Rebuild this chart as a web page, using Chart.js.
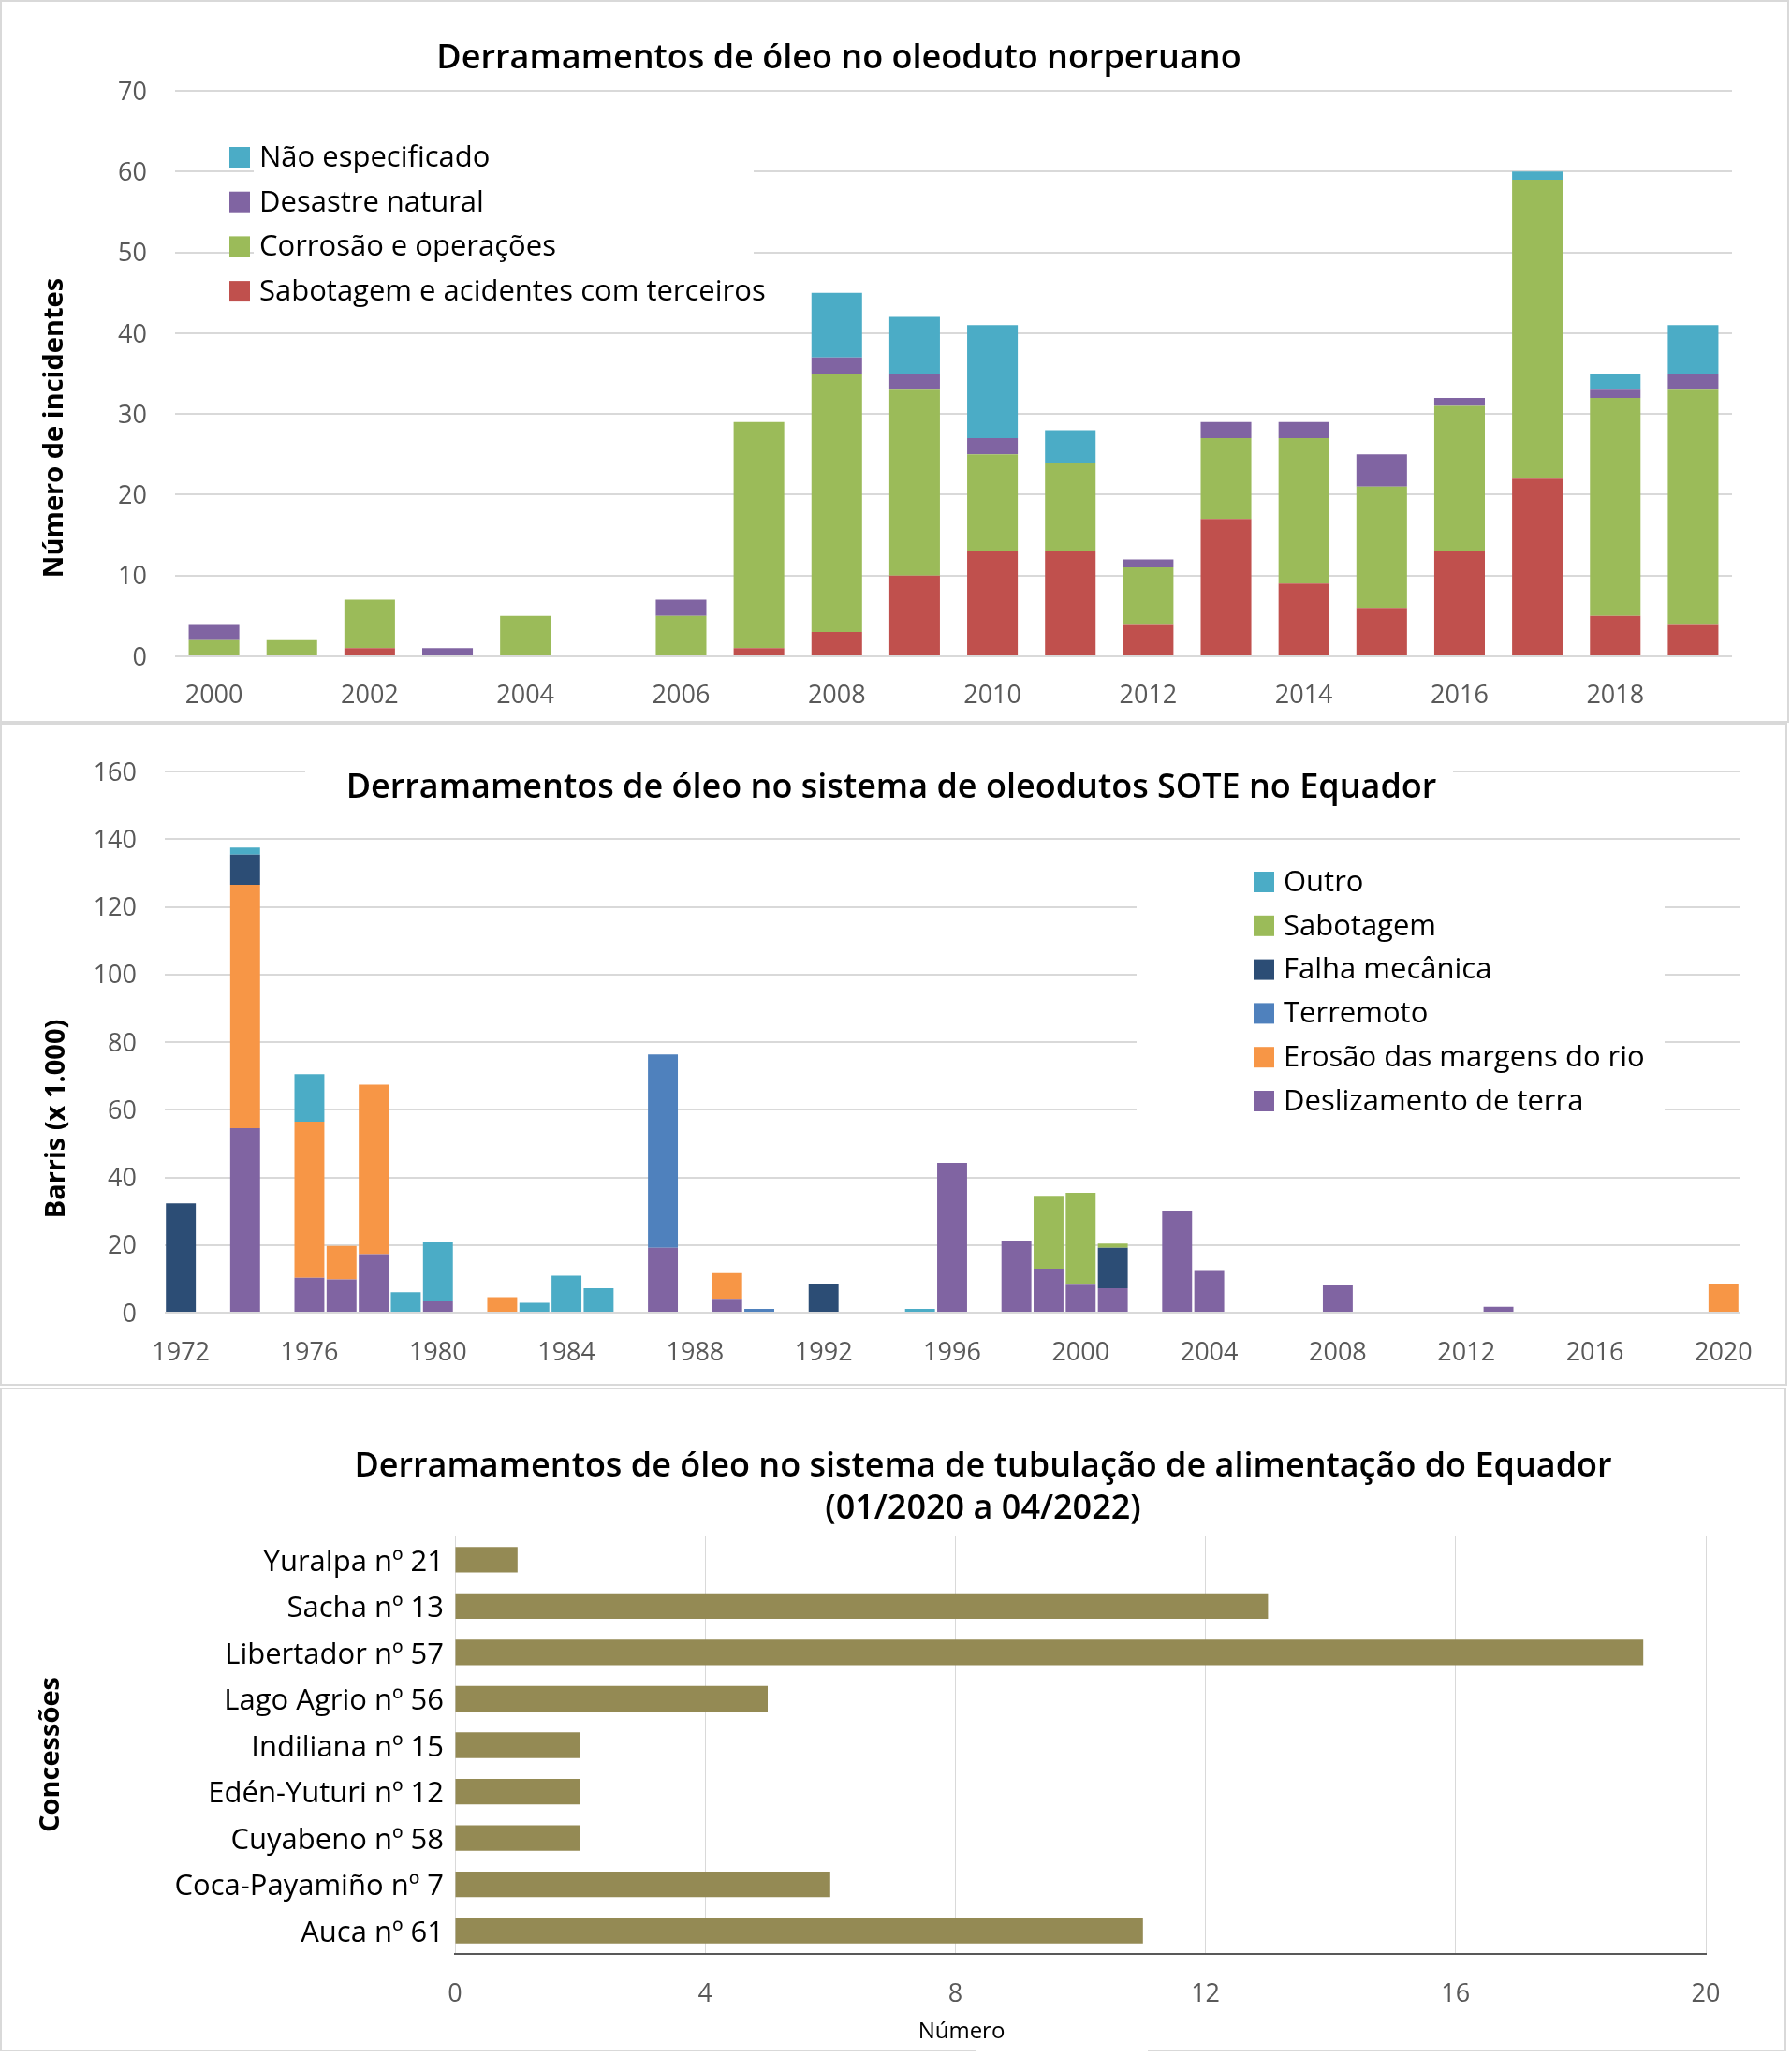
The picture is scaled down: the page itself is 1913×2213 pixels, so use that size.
<!DOCTYPE html>
<html>
<head>
<meta charset="utf-8">
<script src="https://cdn.jsdelivr.net/npm/chart.js@4"></script>
<style>
  html, body { margin: 0; padding: 0; background: #fff; }
  body { width: 1913px; height: 2213px; position: relative; }
  .panel { position: absolute; left: 0; box-sizing: border-box; border: 2px solid #d9d9d9; background: #fff; }
  .panel canvas { display: block; }
  .gap { position: absolute; background: #fff; }
</style>
</head>
<body>
<div class="panel" style="top:0; width:1911px; height:772px;"><canvas id="c1" width="1907" height="768"></canvas></div>
<div class="panel" style="top:772px; width:1909px; height:708px;"><canvas id="c2" width="1905" height="704"></canvas></div>
<div class="panel" style="top:1482px; width:1908px; height:709px;"><canvas id="c3" width="1904" height="705"></canvas></div>
<div class="gap" style="left:1043px; top:2187px; width:183px; height:5px;"></div>
<script>
// --- Oleoduto norperuano (número de incidentes por ano)
const anos1 = ['2000','2001','2002','2003','2004','2005','2006','2007','2008','2009',
               '2010','2011','2012','2013','2014','2015','2016','2017','2018','2019'];
const sabotagemTerceiros = [0,0,1,0,0,0,0,1,3,10,13,13,4,17,9,6,13,22,5,4];
const corrosaoOperacoes  = [2,2,6,0,5,0,5,28,32,23,12,11,7,10,18,15,18,37,27,29];
const desastreNatural    = [2,0,0,1,0,0,2,0,2,2,2,0,1,2,2,4,1,0,1,2];
const naoEspecificado    = [0,0,0,0,0,0,0,0,8,7,14,4,0,0,0,0,0,1,2,6];

// --- SOTE Equador (barris x 1.000), 1972..2020
const anos2 = [];
for (let a = 1972; a <= 2020; a++) anos2.push(String(a));
const deslizamento = [0,0,54.5,0,10.3,9.8,17.3,0,3.4,0,
                      0,0,0,0,0,19.2,0,4.1,0,0,
                      0,0,0,0,44.3,0,21.3,13,8.5,7.2,
                      0,30.2,12.6,0,0,0,8.3,0,0,0,
                      0,1.7,0,0,0,0,0,0,0];
const erosao       = [0,0,72,0,46.2,9.9,50.1,0,0,0,
                      4.6,0,0,0,0,0,0,7.6,0,0,
                      0,0,0,0,0,0,0,0,0,0,
                      0,0,0,0,0,0,0,0,0,0,
                      0,0,0,0,0,0,0,0,8.6];
const terremoto    = [0,0,0,0,0,0,0,0,0,0,
                      0,0,0,0,0,57.1,0,0,1.1,0,
                      0,0,0,0,0,0,0,0,0,0,
                      0,0,0,0,0,0,0,0,0,0,
                      0,0,0,0,0,0,0,0,0];
const falhaMecanica = [32.3,0,8.9,0,0,0,0,0,0,0,
                      0,0,0,0,0,0,0,0,0,0,
                      8.6,0,0,0,0,0,0,0,0,12,
                      0,0,0,0,0,0,0,0,0,0,
                      0,0,0,0,0,0,0,0,0];
const sabotagem2   = [0,0,0,0,0,0,0,0,0,0,
                      0,0,0,0,0,0,0,0,0,0,
                      0,0,0,0,0,0,0,21.5,26.9,1.2,
                      0,0,0,0,0,0,0,0,0,0,
                      0,0,0,0,0,0,0,0,0];
const outro        = [0,0,2.1,0,14,0,0,6,17.6,0,
                      0,2.9,10.9,7.2,0,0,0,0,0,0,
                      0,0,0,1.1,0,0,0,0,0,0,
                      0,0,0,0,0,0,0,0,0,0,
                      0,0,0,0,0,0,0,0,0];

// --- Tubulação de alimentação (01/2020 a 04/2022)
const concessoes = ['Yuralpa nº 21','Sacha nº 13','Libertador nº 57','Lago Agrio nº 56',
                    'Indiliana nº 15','Edén-Yuturi nº 12','Cuyabeno nº 58','Coca-Payamiño nº 7','Auca nº 61'];
const derramamentos = [1,13,19,5,2,2,2,6,11];

Chart.defaults.font.family = "'Open Sans', sans-serif";
Chart.defaults.animation = false;

const CINZA = '#595959';
const GRADE = '#d9d9d9';

// desenha titulos, caixas brancas e legenda por cima do grafico
function makeOverlay(id, cfg) {
    return {
        id: id,
        afterDraw(chart) {
            const ctx = chart.ctx;
            ctx.save();
            (cfg.boxes || []).forEach(b => {
                ctx.fillStyle = '#fff';
                ctx.fillRect(b.x, b.y, b.w, b.h);
            });
            (cfg.texts || []).forEach(t => {
                ctx.save();
                ctx.translate(t.x, t.y);
                if (t.rotate) ctx.rotate(t.rotate);
                ctx.font = t.font;
                ctx.fillStyle = t.color || '#000';
                ctx.textAlign = 'center';
                ctx.textBaseline = 'middle';
                ctx.fillText(t.text, 0, 0);
                ctx.restore();
            });
            if (cfg.legend) {
                const L = cfg.legend;
                const items = chart.data.datasets.slice().reverse();
                items.forEach((ds, i) => {
                    const cy = L.y + i * L.step;
                    ctx.fillStyle = ds.backgroundColor;
                    ctx.fillRect(L.x, cy - L.size / 2, L.size, L.size);
                    ctx.fillStyle = '#000';
                    ctx.font = L.font;
                    ctx.textAlign = 'left';
                    ctx.textBaseline = 'middle';
                    ctx.fillText(ds.label, L.x + L.size + L.gap, cy + 1);
                });
            }
            ctx.restore();
        }
    };
}

// Grafico 1
new Chart(document.getElementById('c1'), {
    type: 'bar',
    data: {
        labels: anos1,
        datasets: [
            { label: 'Sabotagem e acidentes com terceiros', data: sabotagemTerceiros, backgroundColor: '#C0504D' },
            { label: 'Corrosão e operações', data: corrosaoOperacoes, backgroundColor: '#9BBB59' },
            { label: 'Desastre natural', data: desastreNatural, backgroundColor: '#8064A2' },
            { label: 'Não especificado', data: naoEspecificado, backgroundColor: '#4BACC6' }
        ]
    },
    options: {
        responsive: false,
        layout: { padding: { top: 95, right: 59, left: 0, bottom: 0 } },
        datasets: { bar: { categoryPercentage: 1, barPercentage: 0.65 } },
        plugins: { legend: { display: false }, tooltip: { enabled: false } },
        scales: {
            x: {
                stacked: true,
                grid: { display: false, drawTicks: false },
                border: { display: false },
                ticks: {
                    autoSkip: false, maxRotation: 0, padding: 26, color: CINZA, font: { size: 27 },
                    callback: (v, i) => (i % 2 === 0 ? anos1[i] : '')
                },
                afterFit: s => { s.height = 69; }
            },
            y: {
                stacked: true, min: 0, max: 70,
                ticks: { stepSize: 10, padding: 30, labelOffset: 2, color: CINZA, font: { size: 27 } },
                grid: { color: GRADE, lineWidth: 2, drawTicks: false },
                border: { display: false },
                afterFit: s => { s.width = 185; }
            }
        }
    },
    plugins: [makeOverlay('overlay1', {
        boxes: [{ x: 269, y: 140, w: 534, h: 190 }],
        texts: [
            { text: 'Derramamentos de óleo no oleoduto norperuano', x: 894, y: 61, font: '600 36px "Open Sans"' },
            { text: 'Número de incidentes', x: 57, y: 455, rotate: -Math.PI / 2, font: 'bold 29px "Open Sans"' }
        ],
        legend: { x: 243, y: 166, step: 47.7, size: 22, gap: 10, font: '31px "Open Sans"' }
    })]
});

// Grafico 2
new Chart(document.getElementById('c2'), {
    type: 'bar',
    data: {
        labels: anos2,
        datasets: [
            { label: 'Deslizamento de terra', data: deslizamento, backgroundColor: '#8064A2' },
            { label: 'Erosão das margens do rio', data: erosao, backgroundColor: '#F79646' },
            { label: 'Terremoto', data: terremoto, backgroundColor: '#4F81BD' },
            { label: 'Falha mecânica', data: falhaMecanica, backgroundColor: '#2C4D75' },
            { label: 'Sabotagem', data: sabotagem2, backgroundColor: '#9BBB59' },
            { label: 'Outro', data: outro, backgroundColor: '#4BACC6' }
        ]
    },
    options: {
        responsive: false,
        layout: { padding: { top: 50, right: 49, left: 0, bottom: 0 } },
        datasets: { bar: { categoryPercentage: 1, barPercentage: 0.93 } },
        plugins: { legend: { display: false }, tooltip: { enabled: false } },
        scales: {
            x: {
                stacked: true,
                grid: { display: false, drawTicks: false },
                border: { display: false },
                ticks: {
                    autoSkip: false, maxRotation: 0, padding: 27, color: CINZA, font: { size: 27 },
                    callback: (v, i) => (i % 4 === 0 ? anos2[i] : '')
                },
                afterFit: s => { s.height = 76; }
            },
            y: {
                stacked: true, min: 0, max: 160,
                ticks: { stepSize: 20, padding: 30, labelOffset: 2, color: CINZA, font: { size: 27 } },
                grid: { color: GRADE, lineWidth: 2, drawTicks: false },
                border: { display: false },
                afterFit: s => { s.width = 174; }
            }
        }
    },
    plugins: [makeOverlay('overlay2', {
        boxes: [{ x: 324, y: 25, w: 1226, h: 80 }, { x: 1212, y: 138, w: 564, h: 287 }],
        texts: [
            { text: 'Derramamentos de óleo no sistema de oleodutos SOTE no Equador', x: 950, y: 68, font: '600 36px "Open Sans"' },
            { text: 'Barris (x 1.000)', x: 59, y: 421, rotate: -Math.PI / 2, font: 'bold 29px "Open Sans"' }
        ],
        legend: { x: 1337, y: 168, step: 46.8, size: 22, gap: 10, font: '31px "Open Sans"' }
    })]
});

// Grafico 3
new Chart(document.getElementById('c3'), {
    type: 'bar',
    data: {
        labels: concessoes,
        datasets: [
            { label: 'Número', data: derramamentos, backgroundColor: '#948A54' }
        ]
    },
    options: {
        indexAxis: 'y',
        responsive: false,
        layout: { padding: { top: 157, right: 84, left: 0, bottom: 0 } },
        datasets: { bar: { categoryPercentage: 1, barPercentage: 0.55 } },
        plugins: { legend: { display: false }, tooltip: { enabled: false } },
        scales: {
            x: {
                min: 0, max: 20,
                ticks: { stepSize: 4, padding: 27, color: CINZA, font: { size: 27 } },
                grid: { color: GRADE, lineWidth: 1, drawTicks: false },
                border: { display: true, color: '#595959', width: 2 },
                afterFit: s => { s.height = 102; }
            },
            y: {
                ticks: { padding: 12, labelOffset: 3, color: '#000', font: { size: 31 } },
                grid: { display: false, drawTicks: false },
                border: { display: false },
                afterFit: s => { s.width = 484; }
            }
        }
    },
    plugins: [makeOverlay('overlay3', {
        texts: [
            { text: 'Derramamentos de óleo no sistema de tubulação de alimentação do Equador', x: 1048, y: 83, font: '600 36px "Open Sans"' },
            { text: '(01/2020 a 04/2022)', x: 1048, y: 128, font: '600 36px "Open Sans"' },
            { text: 'Número', x: 1025, y: 686, font: '24px "Open Sans"' },
            { text: 'Concessões', x: 53, y: 390, rotate: -Math.PI / 2, font: 'bold 29px "Open Sans"' }
        ]
    })]
});
</script>
</body>
</html>
